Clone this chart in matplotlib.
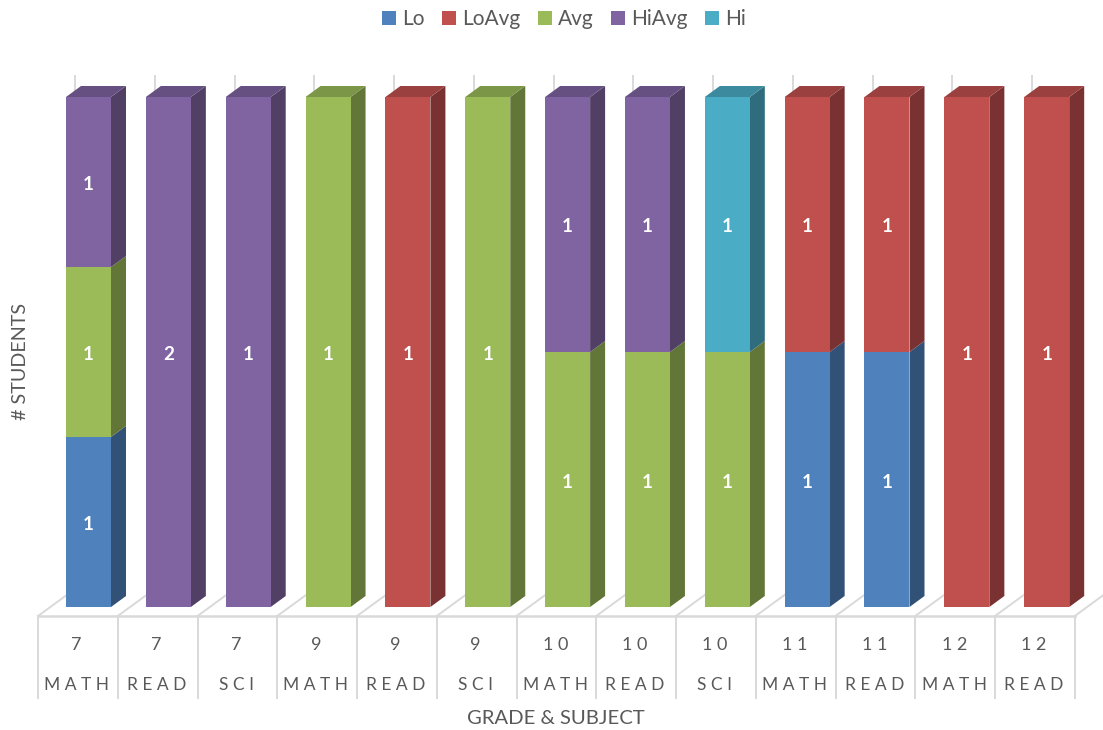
import matplotlib
matplotlib.use("Agg")
import matplotlib.pyplot as plt
from matplotlib.colors import to_rgb
from matplotlib.patches import Polygon, Rectangle

plt.rcParams["font.family"] = ["Lato", "DejaVu Sans"]

grades = ["7", "7", "7", "9", "9", "9", "1 0", "1 0", "1 0", "1 1", "1 1", "1 2", "1 2"]
subjects = ["M A T H", "R E A D", "S C I", "M A T H", "R E A D", "S C I", "M A T H", "R E A D",
            "S C I", "M A T H", "R E A D", "M A T H", "R E A D"]
levels = ["Lo", "LoAvg", "Avg", "HiAvg", "Hi"]
colors = ["#4F81BD", "#C0504D", "#9BBB59", "#8064A2", "#4BACC6"]

lo = [1, 0, 0, 0, 0, 0, 0, 0, 0, 1, 1, 0, 0]
lo_avg = [0, 0, 0, 0, 1, 0, 0, 0, 0, 1, 1, 1, 1]
avg = [1, 0, 0, 1, 0, 1, 1, 1, 1, 0, 0, 0, 0]
hi_avg = [1, 2, 1, 0, 0, 0, 1, 1, 0, 0, 0, 0, 0]
hi = [0, 0, 0, 0, 0, 0, 0, 0, 1, 0, 0, 0, 0]
series = [lo, lo_avg, avg, hi_avg, hi]

W, H = 1103, 730
SLOT = 79.85          # px per category
X0_PX = 88.5          # centre of the first bar front
Y0_PX, Y1_PX = 607, 97  # 0 % and 100 % on the front plane
BAR = 45 / SLOT
DX = 15 / SLOT
DY = 11 / (Y0_PX - Y1_PX)
WALL_DX, WALL_DY = 37, 27   # floor depth in px
AXIS_SLOT = 79.75           # px per category on the front axis
GRID = "#D9D9D9"
TEXT = "#595959"


def shade(color, f):
    return tuple(c * f for c in to_rgb(color))


fig = plt.figure(figsize=(W / 100, H / 100), dpi=100)
ax = fig.add_axes([0, 0, 1, 1])
ax.set_xlim(-X0_PX / SLOT, (W - X0_PX) / SLOT)
ax.set_ylim((Y0_PX - H) / (Y0_PX - Y1_PX), Y0_PX / (Y0_PX - Y1_PX))
ax.axis("off")

px_y = Y0_PX - Y1_PX
n = len(lo)


def ypx(p):
    return (Y0_PX - p) / px_y


def xpx(p):
    return (p - X0_PX) / SLOT


# back wall gridline stubs, floor and the two-level category axis
for i in range(n + 1):
    front = 38 + AXIS_SLOT * i
    back = front + WALL_DX
    ax.plot([xpx(back)] * 2, [ypx(616 - WALL_DY), ypx(76)], color=GRID, lw=1.4, zorder=1)
    ax.plot([xpx(front), xpx(back)], [ypx(616), ypx(616 - WALL_DY)], color=GRID, lw=1.4, zorder=1)
    ax.plot([xpx(front)] * 2, [ypx(616), ypx(698)], color=GRID, lw=1.4, zorder=1)
ax.plot([xpx(38), xpx(38 + AXIS_SLOT * n)], [ypx(616), ypx(616)], color=GRID, lw=1.8, zorder=1)

# stacked bars with their side and top faces
for i in range(n):
    total = sum(s[i] for s in series)
    base = 0.0
    left, right = i - BAR / 2, i + BAR / 2
    top_color = None
    for values, color in zip(series, colors):
        v = values[i]
        if not v:
            continue
        share = v / total
        ax.add_patch(Rectangle((left, base), BAR, share, fc=color, ec="none", zorder=3))
        ax.add_patch(Polygon([(right, base), (right + DX, base + DY),
                              (right + DX, base + share + DY), (right, base + share)],
                             fc=shade(color, 0.63), ec="none", zorder=2))
        ax.text(i, base + share / 2 - 2.5 / px_y, str(v), color="white", fontsize=13.5,
                fontweight="bold", ha="center", va="center", zorder=4)
        base += share
        top_color = color
    ax.add_patch(Polygon([(left, 1), (right, 1), (right + DX, 1 + DY), (left + DX, 1 + DY)],
                         fc=shade(top_color, 0.8), ec="none", zorder=2))
    cx = xpx(76.5 + 79.8 * i)
    ax.text(cx, ypx(645), grades[i], color=TEXT, fontsize=13, ha="center", va="center")
    ax.text(cx, ypx(685), subjects[i], color=TEXT, fontsize=12.5, ha="center", va="center")

ax.text(xpx(556), ypx(719), "GRADE & SUBJECT", color=TEXT, fontsize=14.6, ha="center", va="center")
ax.text(xpx(21), ypx(361), "# STUDENTS", color=TEXT, fontsize=14.2, rotation=90, ha="center", va="center")

# legend row
swatches = [382, 442, 538, 611, 705]
for px, name, color in zip(swatches, levels, colors):
    ax.add_patch(Rectangle((xpx(px), ypx(25)), 14 / SLOT, 14 / px_y, fc=color, ec="none"))
    ax.text(xpx(px + 20), ypx(19), name, color=TEXT, fontsize=15, ha="left", va="center")

fig.savefig("out.png", dpi=100)
